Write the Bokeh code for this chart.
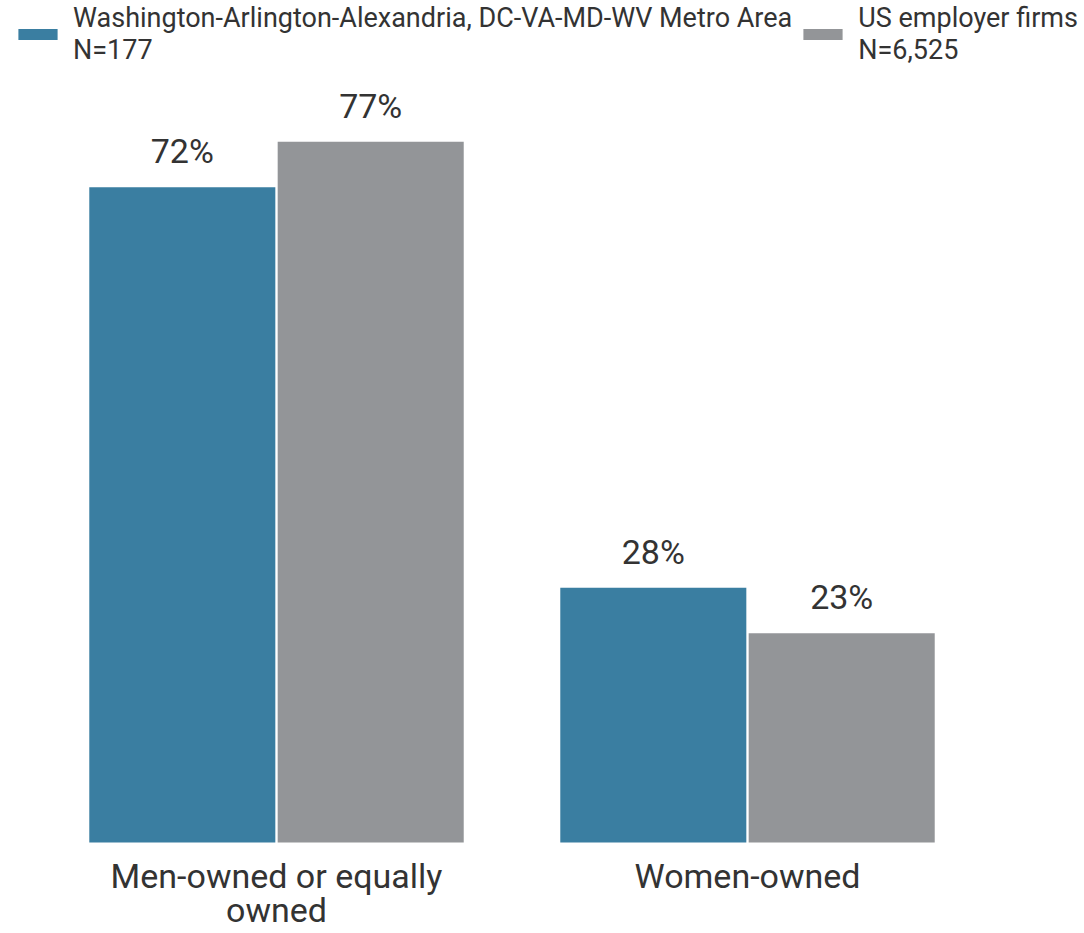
from bokeh.plotting import figure
from bokeh.models import ColumnDataSource, Range1d, Legend, LegendItem
from bokeh.transform import dodge
from bokeh.core.properties import value
from bokeh.embed import file_html
from bokeh.resources import INLINE

categories = ["Men-owned or equally\nowned", "Women-owned"]
series_names = ["Washington-Arlington-Alexandria, DC-VA-MD-WV Metro Area\nN=177",
                "US employer firms\nN=6,525"]
metro_values = [72, 28]
us_values = [77, 23]
metro_labels = ["72%", "28%"]
us_labels = ["77%", "23%"]

BLUE = "#3a7ea1"
GRAY = "#939598"
TEXT = "#333333"
FONT = "Roboto"

xpos = list(range(len(categories)))
src = ColumnDataSource(dict(x=xpos, metro=metro_values, us=us_values,
                            ml=metro_labels, ul=us_labels, cat=categories,
                            zero=[0] * len(categories)))

p = figure(width=1080, height=933, output_backend="svg", toolbar_location=None,
           x_range=Range1d(-0.586, 1.707), y_range=Range1d(-10.0, 92.53),
           min_border_left=0, min_border_right=0, min_border_top=0, min_border_bottom=0)

r1 = p.vbar(x=dodge("x", -0.2, range=p.x_range), top="metro", width=0.395, bottom=0,
            source=src, fill_color=BLUE, line_color=None)
r2 = p.vbar(x=dodge("x", 0.2, range=p.x_range), top="us", width=0.395, bottom=0,
            source=src, fill_color=GRAY, line_color=None)

for col, lab in (("metro", "ml"), ("us", "ul")):
    off = -0.2 if col == "metro" else 0.2
    p.text(x=dodge("x", off, range=p.x_range), y=col, text=lab, source=src,
           text_align="center", text_baseline="alphabetic", y_offset=-36,
           text_font=value(FONT), text_font_size="34px", text_color=TEXT)

# category labels under the bars
p.text(x="x", y="zero", text="cat", source=src, text_align="center",
       text_baseline="top", y_offset=13, text_line_height=0.86,
       text_font=value(FONT), text_font_size="34px", text_color=TEXT)

legend = Legend(items=[LegendItem(label=series_names[0], renderers=[r1]),
                       LegendItem(label=series_names[1], renderers=[r2])],
                location=(13, 867), orientation="horizontal",
                margin=0, padding=0, spacing=6, label_standoff=11,
                glyph_width=49, glyph_height=14,
                label_text_font=FONT, label_text_font_size="27px",
                label_text_color=TEXT, label_text_line_height=0.9,
                background_fill_alpha=0, border_line_color=None)
p.add_layout(legend)

p.xaxis.visible = False
p.yaxis.visible = False
p.xgrid.grid_line_color = None
p.ygrid.grid_line_color = None
p.outline_line_color = None
p.background_fill_color = "white"
p.border_fill_color = "white"

open("out.html", "w").write(file_html(p, INLINE))
